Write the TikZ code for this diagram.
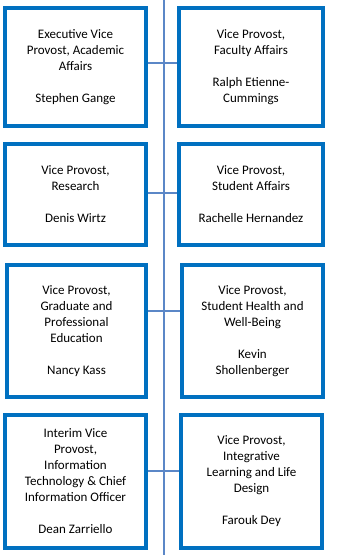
\documentclass[tikz,border=0pt]{standalone}
\usepackage{fontspec}
\setmainfont{Carlito}
\usetikzlibrary{positioning}
\definecolor{boxblue}{HTML}{0070C0}
\definecolor{lineblue}{HTML}{5B87C7}

\begin{document}
\begin{tikzpicture}[x=1pt, y=1pt,
  rolebox/.style={draw=boxblue, line width=3.8pt, fill=white, align=center,
    font=\fontsize{13}{16}\selectfont, inner sep=2pt},
  link/.style={draw=lineblue, line width=2pt}
]
  \useasboundingbox (0,0) rectangle (347,-555);

  % spine
  \coordinate (top) at (164,0);
  \coordinate (bot) at (164,-555);
  \draw[link] (top) -- (bot);

  \coordinate (c1) at (164,-63);
  \coordinate (c2) at (164,-193);
  \coordinate (c3) at (164,-311);
  \coordinate (c4) at (164,-471);

  % row 1
  \node[rolebox, minimum width=141.2pt, minimum height=118.2pt] (evp) at (75.5,-67)
    {Executive Vice\\Provost, Academic\\Affairs\\[16pt]Stephen Gange};
  \node[rolebox, minimum width=144.2pt, minimum height=118.2pt] (fac) at (251,-67)
    {Vice Provost,\\Faculty Affairs\\[16pt]Ralph Etienne-\\Cummings};

  % row 2
  \node[rolebox, minimum width=141.2pt, minimum height=101.2pt] (res) at (75.5,-194.5)
    {Vice Provost,\\Research\\[16pt]Denis Wirtz};
  \node[rolebox, minimum width=144.2pt, minimum height=101.2pt] (stu) at (251,-194.5)
    {Vice Provost,\\Student Affairs\\[16pt]Rachelle Hernandez};

  % row 3
  \node[rolebox, minimum width=139.2pt, minimum height=132.2pt] (grad) at (76.5,-331)
    {Vice Provost,\\Graduate and\\Professional\\Education\\[16pt]Nancy Kass};
  \node[rolebox, minimum width=141.2pt, minimum height=132.2pt] (hlth) at (252.5,-331)
    {Vice Provost,\\Student Health and\\Well-Being\\[16pt]Kevin\\Shollenberger};

  % row 4
  \node[rolebox, minimum width=141.2pt, minimum height=133.2pt] (it) at (75.5,-481.5)
    {Interim Vice\\Provost,\\Information\\Technology \& Chief\\Information Officer\\[16pt]Dean Zarriello};
  \node[rolebox, minimum width=141.2pt, minimum height=133.2pt] (ild) at (251.5,-481.5)
    {Vice Provost,\\Integrative\\Learning and Life\\Design\\[16pt]Farouk Dey};

  % cross links
  \draw[link] (evp.east |- c1) -- (fac.west |- c1);
  \draw[link] (res.east |- c2) -- (stu.west |- c2);
  \draw[link] (grad.east |- c3) -- (hlth.west |- c3);
  \draw[link] (it.east |- c4) -- (ild.west |- c4);
\end{tikzpicture}
\end{document}
